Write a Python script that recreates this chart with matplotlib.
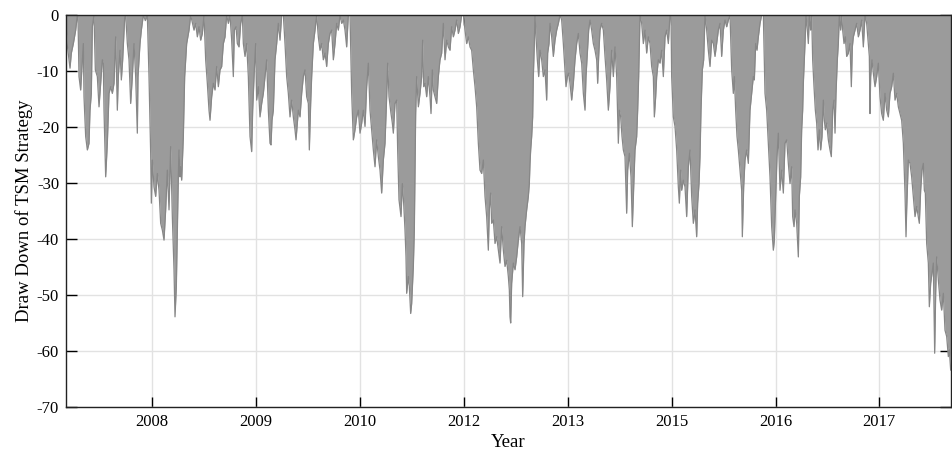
import numpy as np
import matplotlib
matplotlib.use("Agg")
import matplotlib.pyplot as plt

# ---- data: trading-day index and drawdown (%) of the TSM strategy ----
days = [
    0, 4, 9, 12, 16, 22, 29, 34, 36, 39, 44, 49, 52, 54, 59, 64, 69, 72, 76, 79,
    84, 88, 94, 99, 104, 109, 112, 114, 119, 124, 129, 134, 139, 144, 149, 154, 157, 162, 166, 170,
    176, 179, 184, 189, 194, 199, 204, 209, 214, 216, 222, 226, 232, 238, 244, 249, 254, 256, 259, 264,
    269, 274, 279, 284, 289, 294, 299, 304, 309, 314, 319, 324, 327, 331, 334, 337, 339, 342, 344, 347,
    352, 356, 362, 369, 374, 384, 389, 394, 399, 404, 409, 414, 419, 424, 429, 432,
    437, 442, 447, 452, 457, 462, 467, 472, 477, 482, 487, 492, 497, 502, 505, 510, 514, 519, 524, 529,
    532, 537, 542, 547, 552, 557, 560, 565, 569, 572, 577, 582, 587, 592, 597, 602, 607, 612, 615, 618,
    622, 627, 632, 637, 642, 647, 652, 657, 662, 667, 672, 677, 682, 687, 690, 694, 697, 702, 707, 712,
    717, 722, 727, 730, 734, 737, 742, 747, 752, 757, 762, 767, 772, 777, 782, 787, 792, 797, 802, 807,
    812, 817, 822, 827, 832, 837, 842, 847, 852, 857, 862, 867, 872, 877, 882,
    887, 892, 897, 902, 907, 909, 912, 917, 922, 927, 932, 937, 942, 947, 952, 957, 962, 965, 969, 975,
    979, 982, 987, 992, 995, 999, 1005, 1009, 1013, 1017, 1020, 1022, 1027, 1030, 1034, 1037, 1042, 1045, 1049, 1052,
    1057, 1062, 1067, 1070, 1073, 1077, 1082, 1087, 1092, 1095, 1099, 1102, 1107, 1112, 1117, 1122, 1127, 1132, 1137, 1142,
    1147, 1152, 1157, 1162, 1167, 1172, 1177, 1182, 1187, 1192, 1197, 1202, 1207, 1212, 1217, 1222, 1227, 1232, 1237, 1242,
    1247, 1252, 1257, 1262, 1267, 1270, 1274, 1277, 1282, 1287, 1292, 1297, 1302, 1307,
    1312, 1317, 1322, 1327, 1330, 1332, 1334, 1337, 1342, 1347, 1352, 1357, 1362, 1367, 1370, 1374, 1377, 1382, 1387, 1390,
    1392, 1394, 1397, 1400, 1402, 1405, 1407, 1410, 1414, 1418, 1422, 1427, 1432, 1437, 1442, 1445, 1449, 1452, 1457, 1462,
    1467, 1472, 1477, 1482, 1487, 1492, 1497, 1500, 1504, 1508, 1512, 1517, 1522, 1527, 1532, 1537, 1542, 1547, 1552, 1557,
    1560, 1564, 1568, 1572, 1577, 1582, 1587, 1592, 1595, 1598, 1602, 1607, 1612, 1617, 1622, 1627, 1632, 1637, 1642, 1647,
    1652, 1657, 1660, 1664, 1668, 1672, 1677, 1682, 1685, 1690, 1695, 1699, 1704, 1707, 1712, 1715, 1718, 1722, 1727, 1732,
    1737, 1742, 1747, 1752,
    1757, 1762, 1765, 1769, 1772, 1777, 1782, 1787, 1792, 1797, 1802, 1807, 1812, 1815, 1817, 1822, 1827, 1832, 1837, 1840,
    1844, 1847, 1852, 1857, 1862, 1867, 1872, 1877, 1882, 1887, 1892, 1895, 1899, 1902, 1905, 1909, 1913, 1917, 1922, 1927,
    1932, 1937, 1942, 1947, 1952, 1957, 1962, 1967, 1972, 1977, 1982, 1987, 1992, 1997, 2002, 2005, 2009, 2013, 2017, 2022,
    2027, 2029, 2033, 2037, 2042, 2047, 2052, 2057, 2062, 2065, 2069, 2073, 2077, 2082, 2087, 2092, 2097, 2102, 2107, 2112,
    2117, 2122, 2125, 2129, 2133, 2137, 2142, 2147, 2152, 2157, 2162, 2167, 2172, 2177,
    2180, 2184, 2187, 2192, 2197, 2200, 2204, 2207, 2210, 2212, 2217, 2220, 2224, 2227, 2230, 2234, 2237, 2240, 2244, 2248,
    2252, 2256, 2260, 2264, 2268, 2272, 2275, 2278, 2282, 2287, 2292, 2296, 2300, 2304, 2307, 2310, 2314, 2317, 2320, 2324,
    2327, 2330, 2334, 2338, 2342, 2347, 2352, 2356, 2359, 2362, 2367, 2372, 2377, 2382, 2387, 2392, 2397, 2402, 2407, 2410,
    2412, 2414, 2418, 2422, 2427, 2432, 2437, 2442, 2447, 2452, 2457, 2462, 2467, 2472, 2477, 2482, 2487, 2492, 2497, 2502,
    2507, 2512, 2517, 2520, 2522, 2527, 2532, 2537, 2542, 2547, 2552, 2557, 2560, 2564, 2568, 2572, 2575, 2578, 2582, 2587,
    2590, 2594, 2598, 2602, 2606, 2609, 2612, 2617, 2622, 2627, 2632, 2637, 2642, 2647, 2650, 2654,
]

drawdown = [
    -2.0, -5.5, -8.0, -9.5, -6.8, -5.1, -2.7, 0.0, -0.5, -11.0, -13.4, -8.0, -5.1, -14.6, -21.7, -24.1, -22.9, -17.0, -14.0, -2.1,
    0.0, -9.8, -11.0, -16.4, -12.2, -8.0, -8.6, -17.0, -28.9, -22.9, -14.0, -12.8, -14.0, -12.2, -3.9, -17.0, -11.0, -6.3, -11.6, -8.0,
    -0.5, 0.0, -5.1, -8.0, -15.8, -11.0, -5.1, -11.0, -21.1, -11.0, -5.1, -2.7, 0.0, -1.0, 0.0, -11.0, -24.7, -33.6, -25.9, -30.7,
    -32.4, -28.3, -31.3, -37.2, -38.4, -40.2, -34.8, -27.7, -34.8, -23.5, -36.0, -45.5, -53.9, -48.5, -38.4, -28.9, -24.1, -28.9, -27.1, -29.5,
    -21.7, -11.0, -5.1, -2.7, 0.0, -2.7, -1.5, -3.9, -2.1, -4.5, -3.3, 0.0, -8.0, -12.2, -17.0, -18.8,
    -14.6, -12.2, -13.4, -9.2, -12.8, -9.8, -9.2, -5.1, -3.9, 0.0, -1.5, 0.0, -4.5, -11.0, -2.7, -2.1, -5.1, -5.7, -1.5, 0.0,
    -5.1, -7.4, -5.1, -11.0, -21.7, -24.4, -17.0, -9.8, -5.1, -15.2, -12.8, -18.2, -15.8, -14.0, -11.0, -8.0, -17.0, -22.9, -23.2, -18.8,
    -17.0, -8.0, -5.1, -1.5, -4.5, 0.0, 0.0, -5.1, -11.0, -14.0, -18.2, -15.2, -18.2, -20.5, -22.3, -19.3, -17.0, -18.2, -14.0, -11.0,
    -9.8, -14.6, -15.8, -24.1, -15.8, -11.0, -5.1, -2.7, 0.0, -3.9, -6.3, -5.1, -8.0, -6.8, -9.2, -5.1, -3.3, -2.7, -8.0, -5.1,
    -1.5, -2.7, 0.0, -1.5, -0.9, -2.7, -5.7, 0.0, 0.0, -14.0, -22.3, -20.5, -18.2, -17.0, -21.1,
    -19.3, -17.0, -19.9, -12.8, -8.6, -12.2, -17.0, -20.5, -24.1, -27.1, -22.3, -25.3, -27.7, -31.8, -25.9, -22.9, -14.6, -8.6, -14.6, -17.6,
    -19.3, -21.1, -15.8, -15.2, -24.1, -33.0, -36.0, -30.1, -33.6, -38.4, -43.2, -49.7, -46.7, -48.5, -53.3, -51.5, -44.9, -38.4, -17.6, -11.0,
    -16.4, -14.0, -11.0, -4.5, -12.8, -12.2, -14.6, -11.0, -14.6, -17.6, -9.8, -13.4, -14.6, -15.8, -11.0, -8.0, -6.8, -1.5, -8.0, -4.5,
    -5.7, -6.3, -2.1, -3.9, -2.7, -0.9, -3.3, -2.1, 0.0, 0.0, -2.7, -5.1, -3.9, -5.7, -6.3, -9.8, -12.8, -16.4, -22.9, -27.7,
    -28.3, -25.9, -32.4, -36.0, -42.0, -34.8, -31.8, -37.2, -36.6, -40.8, -39.6, -42.0, -44.3, -37.8,
    -42.0, -44.9, -43.8, -46.7, -49.1, -53.9, -55.0, -47.9, -44.3, -45.5, -43.2, -40.2, -37.8, -40.8, -50.3, -40.8, -37.8, -34.8, -32.4, -30.1,
    -26.5, -24.1, -21.7, -18.2, -11.0, -5.1, 0.0, -3.9, -8.0, -11.0, -6.3, -8.0, -11.0, -9.8, -15.2, -6.8, -5.1, -1.5, -3.9, -7.4,
    -4.5, -2.7, -1.5, 0.0, -0.9, -5.1, -9.8, -12.8, -11.0, -10.4, -12.2, -15.2, -12.2, -8.0, -5.1, -3.3, -6.8, -8.6, -14.0, -17.0,
    -11.0, -6.8, -2.7, -0.9, -2.7, -5.1, -6.3, -8.0, -12.2, -7.4, -2.7, -1.5, -2.7, -7.4, -11.6, -17.0, -12.8, -6.3, -11.0, -5.7,
    -11.0, -22.9, -17.0, -18.2, -21.7, -24.1, -25.3, -35.4, -27.7, -24.7, -28.9, -37.8, -28.9, -24.1, -21.7, -17.0, -11.0, 0.0, -1.5, -5.1,
    -2.7, -6.8, -3.9, -5.1,
    -9.2, -11.0, -18.2, -14.6, -11.0, -8.0, -8.6, -6.3, -11.0, -3.9, -2.7, -5.1, 0.0, 0.0, -11.0, -18.2, -19.9, -24.1, -30.7, -33.6,
    -27.7, -31.3, -29.5, -30.7, -36.0, -27.1, -24.1, -32.4, -37.2, -34.8, -39.6, -33.6, -30.1, -25.3, -17.0, -9.8, -8.0, 0.0, -2.7, -6.3,
    -9.2, -4.5, -5.1, -7.4, -5.1, -2.7, -1.5, -7.4, -2.7, -0.9, -2.1, -0.9, 0.0, -9.8, -14.0, -11.0, -17.0, -21.7, -24.1, -27.7,
    -31.3, -39.6, -30.7, -25.9, -24.1, -26.5, -17.0, -14.0, -11.0, -11.6, -5.1, -6.3, -3.9, -1.5, 0.0, 0.0, -14.0, -17.0, -22.9, -28.9,
    -37.8, -42.0, -40.2, -32.4, -25.3, -21.1, -31.3, -27.7, -31.8, -22.9, -22.3, -26.5, -30.1, -27.1,
    -36.0, -37.8, -34.8, -37.2, -43.2, -32.4, -28.9, -20.5, -17.0, -12.2, -5.1, 0.0, -2.7, -5.1, 0.0, -2.7, 0.0, -8.0, -12.8, -17.0,
    -19.3, -24.1, -20.5, -24.1, -21.7, -15.2, -18.8, -20.5, -19.3, -22.3, -24.1, -25.3, -17.0, -15.2, -21.1, -14.0, -8.0, -5.1, 0.0, -2.7,
    0.0, -2.7, -5.1, -3.9, -7.4, -6.8, -5.1, -12.8, -5.7, -3.9, -2.7, -1.5, -3.9, -2.7, -0.9, -5.7, 0.0, -1.5, -5.1, -7.4,
    -17.6, -11.0, -8.0, -10.4, -12.8, -11.0, -8.6, -14.6, -17.6, -18.8, -14.0, -17.0, -18.2, -14.0, -12.8, -10.4, -15.2, -14.0, -16.4, -17.6,
    -18.8, -22.9, -31.8, -39.6, -34.8, -25.9, -26.5, -28.9, -32.4, -36.0, -34.2, -36.0, -37.2, -31.3, -27.7, -26.5, -31.3, -31.8, -40.8, -44.3,
    -52.1, -47.9, -46.1, -44.3, -60.4, -49.7, -43.2, -47.3, -50.9, -52.7, -49.7, -56.3, -57.4, -61.0, -59.8, -63.4,
]

tick_days = [258, 570, 882, 1193, 1505, 1817, 2129, 2440]
tick_labels = ["2008", "2009", "2010", "2012", "2013", "2015", "2016", "2017"]
y_ticks = [0, -10, -20, -30, -40, -50, -60, -70]

# ---- plot ----
plt.rcParams["font.family"] = ["Liberation Serif", "DejaVu Serif"]
plt.rcParams["axes.unicode_minus"] = False

fig = plt.figure(figsize=(9.52, 4.5), dpi=100)
ax = fig.add_axes([66 / 952, 1 - 407 / 450, (951 - 66) / 952, (407 - 15) / 450])

x = np.asarray(days, dtype=float)
y = np.asarray(drawdown, dtype=float)
ax.fill_between(x, y, 0, color="#9b9b9b", linewidth=0, zorder=2)
ax.plot(x, y, color="#878787", linewidth=0.9, zorder=3)

ax.set_xlim(0, 2655)
ax.set_ylim(-70, 0)
ax.set_xticks(tick_days)
ax.set_xticklabels(tick_labels)
ax.set_yticks(y_ticks)
ax.set_yticklabels([str(v) for v in y_ticks])

ax.grid(True, color="#e2e2e2", linewidth=1.0, zorder=0)
ax.set_axisbelow(True)
ax.tick_params(direction="in", top=True, right=True, length=7, width=1.0,
               labelsize=12, colors="black", pad=5)
ax.tick_params(axis="y", which="both", right=True, length=8)
for s in ax.spines.values():
    s.set_linewidth(1.0)
    s.set_color("#222222")
    s.set_zorder(5)

ax.set_xlabel("Year", fontsize=13.5, labelpad=3)
ax.set_ylabel("Draw Down of TSM Strategy", fontsize=13.5, labelpad=3)

fig.savefig("out.png", dpi=100)
